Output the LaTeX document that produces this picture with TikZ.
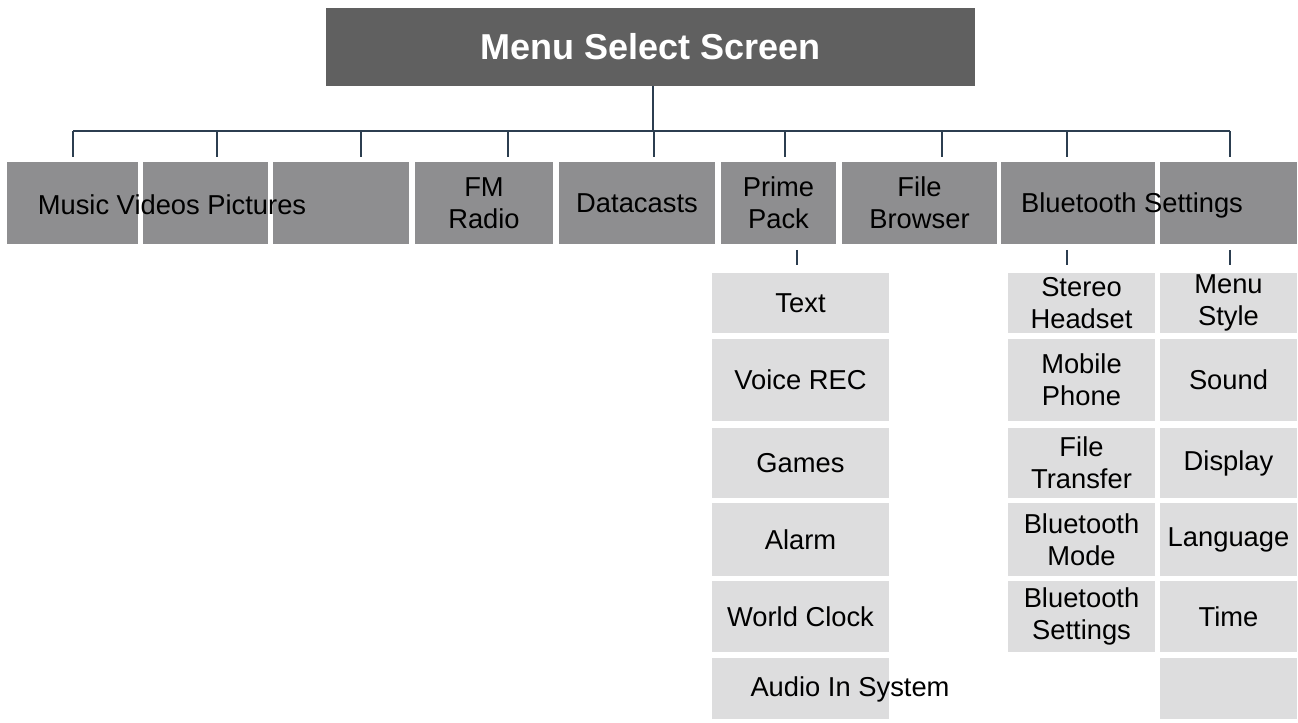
\documentclass[tikz,border=0pt]{standalone}
\usepackage{fontspec}
\setmainfont{Liberation Sans}
\usetikzlibrary{positioning}
\definecolor{darkbox}{RGB}{96,96,96}
\definecolor{midbox}{RGB}{142,142,144}
\definecolor{lightbox}{RGB}{221,221,222}
\definecolor{wire}{RGB}{44,62,80}

\begin{document}
\begin{tikzpicture}[x=0.75pt,y=0.75pt,yscale=-1,xscale=1,
  topbox/.style={fill=darkbox,text=white,font=\bfseries\fontsize{27}{30}\selectfont,inner sep=0pt},
  mainbox/.style={fill=midbox,inner sep=0pt,align=center,font=\fontsize{20.5}{24}\selectfont},
  subbox/.style={fill=lightbox,inner sep=0pt,align=center,font=\fontsize{20.5}{24}\selectfont},
  link/.style={draw=wire,line width=1.3pt}]
\useasboundingbox (0,0) rectangle (1298,723);

% top box
\node[topbox,minimum width=649*0.75pt,minimum height=78*0.75pt] (menu) at (650.5,47) {Menu Select Screen};

% main row
\node[mainbox,minimum width=131*0.75pt,minimum height=82*0.75pt] (music) at (72.5,203) {};
\node[mainbox,minimum width=125*0.75pt,minimum height=82*0.75pt] (videos) at (205.5,203) {};
\node[mainbox,minimum width=136*0.75pt,minimum height=82*0.75pt] (pictures) at (341,203) {};
\node[mainbox,minimum width=138*0.75pt,minimum height=82*0.75pt] (fmradio) at (484,203) {FM\\Radio};
\node[mainbox,minimum width=156*0.75pt,minimum height=82*0.75pt] (datacasts) at (637,203) {Datacasts};
\node[mainbox,minimum width=115*0.75pt,minimum height=82*0.75pt] (prime) at (778.5,203) {Prime\\Pack};
\node[mainbox,minimum width=155*0.75pt,minimum height=82*0.75pt] (browser) at (919.5,203) {File\\Browser};
\node[mainbox,minimum width=154*0.75pt,minimum height=82*0.75pt] (bluetooth) at (1078,203) {};
\node[mainbox,minimum width=137*0.75pt,minimum height=82*0.75pt] (settings) at (1228.5,203) {};
\node[font=\fontsize{20.5}{24}\selectfont,inner sep=0pt] (mvptext) at (172,205) {Music Videos Pictures};
\node[font=\fontsize{20.5}{24}\selectfont,inner sep=0pt] (bstext) at (1132,205) {Bluetooth Settings};

% tree lines
\coordinate (bus) at (653,131);
\draw[link] (menu.south -| bus) -- (bus);
\draw[link] (73,131) -- (1230,131);
\foreach \x in {73,217,361,508,654,785,942,1067,1230}
  \draw[link] (\x,131) -- (\x,157);
\foreach \x in {797,1067,1230}
  \draw[link] (\x,250) -- (\x,265);

% prime pack column
\foreach \name/\yt/\yb/\txt in {text/273/333/Text, voice/339/421/Voice REC, games/428/498/Games,
    alarm/503/576/Alarm, clock/581/652/World Clock, audio/658/719/}
  \node[subbox,minimum width=177*0.75pt,minimum height={(\yb-\yt)*0.75pt}] (\name) at (800.5,{(\yt+\yb)/2}) {\txt};
\node[font=\fontsize{20.5}{24}\selectfont,inner sep=0pt] (audiotext) at (850,689) {Audio In System};

% bluetooth column
\foreach \name/\yt/\yb/\txt in {stereo/273/333/{Stereo\\Headset}, mobile/339/421/{Mobile\\Phone},
    transfer/428/498/{File\\Transfer}, btmode/503/576/{Bluetooth\\Mode}, btset/581/652/{Bluetooth\\Settings}}
  \node[subbox,minimum width=147*0.75pt,minimum height={(\yb-\yt)*0.75pt}] (\name) at (1081.5,{(\yt+\yb)/2}) {\txt};

% settings column
\foreach \name/\yt/\yb/\txt in {mstyle/273/333/{Menu\\Style}, sound/339/421/Sound, display/428/498/Display,
    language/503/576/Language, time/581/652/Time, blank/658/719/}
  \node[subbox,minimum width=137*0.75pt,minimum height={(\yb-\yt)*0.75pt}] (\name) at (1228.5,{(\yt+\yb)/2}) {\txt};

\end{tikzpicture}
\end{document}
